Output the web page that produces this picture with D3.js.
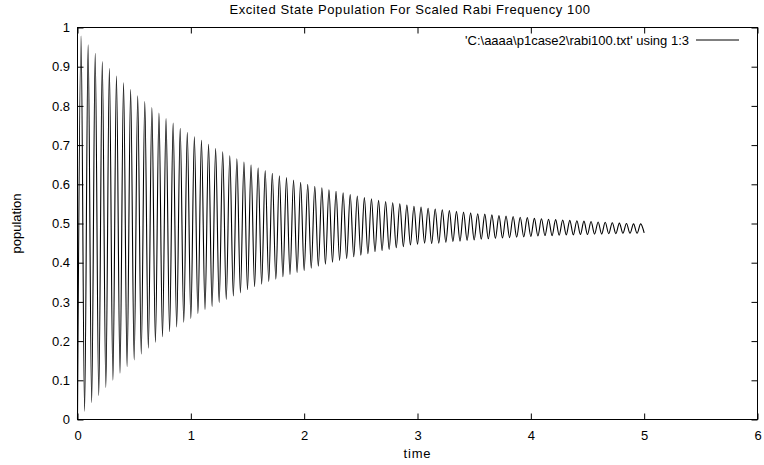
<!DOCTYPE html>
<html>
<head>
<meta charset="utf-8">
<script src="https://cdn.jsdelivr.net/npm/d3@7"></script>
<style>
  body { margin: 0; background: #fff; }
  svg text { font-family: "Liberation Sans", Arial, Helvetica, sans-serif; font-size: 13px; fill: #000; }
</style>
</head>
<body>
<svg id="chart" width="764" height="465"></svg>
<script>
// ---- chart text ----
const titleText = "Excited State Population For Scaled Rabi Frequency 100";
const legendText = "'C:\\aaaa\\p1case2\\rabi100.txt' using 1:3";
const xLabel = "time";
const yLabel = "population";

// ---- ticks ----
const xTicks = [0, 1, 2, 3, 4, 5, 6];
const xTickLabels = ["0", "1", "2", "3", "4", "5", "6"];
const yTicks = [0, 0.1, 0.2, 0.3, 0.4, 0.5, 0.6, 0.7, 0.8, 0.9, 1];
const yTickLabels = ["0", "0.1", "0.2", "0.3", "0.4", "0.5", "0.6", "0.7", "0.8", "0.9", "1"];

// ---- data: successive extrema of the excited-state population ----
// time step between a minimum and the following maximum
const halfPeriod = 0.03125;
// minima at t = 0, 2*halfPeriod, 4*halfPeriod, ... 5
const troughValues = [
  0.000, 0.021, 0.043, 0.061, 0.082, 0.100, 0.118, 0.135, 0.152, 0.167,
  0.182, 0.197, 0.211, 0.224, 0.236, 0.248, 0.258, 0.270, 0.280, 0.288,
  0.298, 0.306, 0.315, 0.323, 0.331, 0.339, 0.345, 0.352, 0.358, 0.364,
  0.370, 0.375, 0.380, 0.386, 0.391, 0.396, 0.401, 0.406, 0.411, 0.415,
  0.419, 0.423, 0.428, 0.431, 0.434, 0.438, 0.441, 0.445, 0.447, 0.450,
  0.449, 0.450, 0.452, 0.454, 0.455, 0.457, 0.458, 0.460, 0.461, 0.462,
  0.463, 0.464, 0.465, 0.466, 0.467, 0.468, 0.469, 0.469, 0.470, 0.471,
  0.471, 0.472, 0.472, 0.473, 0.473, 0.474, 0.474, 0.475, 0.475, 0.475,
  0.476
];
// maxima at t = halfPeriod, 3*halfPeriod, ...
const peakValues = [
  0.978, 0.956, 0.934, 0.913, 0.895, 0.876, 0.859, 0.842, 0.826, 0.811,
  0.796, 0.782, 0.768, 0.756, 0.743, 0.732, 0.721, 0.712, 0.702, 0.691,
  0.683, 0.673, 0.665, 0.657, 0.650, 0.642, 0.635, 0.628, 0.622, 0.617,
  0.611, 0.605, 0.600, 0.595, 0.591, 0.586, 0.582, 0.578, 0.574, 0.570,
  0.566, 0.563, 0.559, 0.556, 0.553, 0.550, 0.547, 0.544, 0.542, 0.539,
  0.537, 0.535, 0.533, 0.531, 0.529, 0.527, 0.525, 0.524, 0.522, 0.520,
  0.519, 0.518, 0.516, 0.515, 0.513, 0.512, 0.511, 0.510, 0.509, 0.508,
  0.507, 0.506, 0.505, 0.504, 0.503, 0.502, 0.501, 0.500, 0.499, 0.499
];

// interleave minima and maxima in time order
const series = [];
for (let i = 0; i < troughValues.length; i++) {
  series.push({ t: 2 * i * halfPeriod, v: troughValues[i] });
  if (i < peakValues.length) series.push({ t: (2 * i + 1) * halfPeriod, v: peakValues[i] });
}

// ---- layout ----
const svg = d3.select("#chart");
const plot = { left: 77.5, right: 757.5, top: 27.5, bottom: 419.5 };

const x = d3.scaleLinear().domain([0, 6]).range([plot.left, plot.right]);
const y = d3.scaleLinear().domain([0, 1]).range([plot.bottom, plot.top]);

svg.append("rect").attr("width", 764).attr("height", 465).attr("fill", "#fff");

// axes with inward ticks on all four sides
const tickLen = -6;
const gx = svg.append("g").attr("transform", `translate(0,${plot.bottom})`)
  .call(d3.axisBottom(x).tickValues(xTicks).tickFormat((d, i) => xTickLabels[i]).tickSize(tickLen).tickPadding(11));
const gxTop = svg.append("g").attr("transform", `translate(0,${plot.top})`)
  .call(d3.axisTop(x).tickValues(xTicks).tickFormat("").tickSize(tickLen));
const gy = svg.append("g").attr("transform", `translate(${plot.left},0)`)
  .call(d3.axisLeft(y).tickValues(yTicks).tickFormat((d, i) => yTickLabels[i]).tickSize(tickLen).tickPadding(7.5));
const gyRight = svg.append("g").attr("transform", `translate(${plot.right},0)`)
  .call(d3.axisRight(y).tickValues(yTicks).tickFormat("").tickSize(tickLen));

[gx, gxTop, gy, gyRight].forEach(g => {
  g.select(".domain").remove();
  g.selectAll(".tick line").attr("stroke", "#000").attr("stroke-width", 1);
  g.selectAll("text").attr("font-size", null).attr("font-family", null).attr("fill", "#000");
});

// frame
svg.append("rect")
  .attr("x", plot.left).attr("y", plot.top)
  .attr("width", plot.right - plot.left).attr("height", plot.bottom - plot.top)
  .attr("fill", "none").attr("stroke", "#000").attr("stroke-width", 1);

// population curve
const line = d3.line().x(d => x(d.t)).y(d => y(d.v)).curve(d3.curveMonotoneX);
svg.append("path").datum(series)
  .attr("d", line)
  .attr("fill", "none").attr("stroke", "#000").attr("stroke-width", 1.1);

// title and axis labels
svg.append("text").attr("x", 410).attr("y", 14).attr("text-anchor", "middle")
  .attr("letter-spacing", "0.6px").text(titleText);
svg.append("text").attr("x", (plot.left + plot.right) / 2).attr("y", 458).attr("text-anchor", "middle")
  .attr("letter-spacing", "0.8px").text(xLabel);
svg.append("text").attr("transform", `translate(21,${(plot.top + plot.bottom) / 2}) rotate(-90)`)
  .attr("text-anchor", "middle").text(yLabel);

// key
svg.append("text").attr("x", 689).attr("y", 44.5).attr("text-anchor", "end").text(legendText);
svg.append("line").attr("x1", 696).attr("x2", 739).attr("y1", 40).attr("y2", 40)
  .attr("stroke", "#000").attr("stroke-width", 1);
</script>
</body>
</html>
